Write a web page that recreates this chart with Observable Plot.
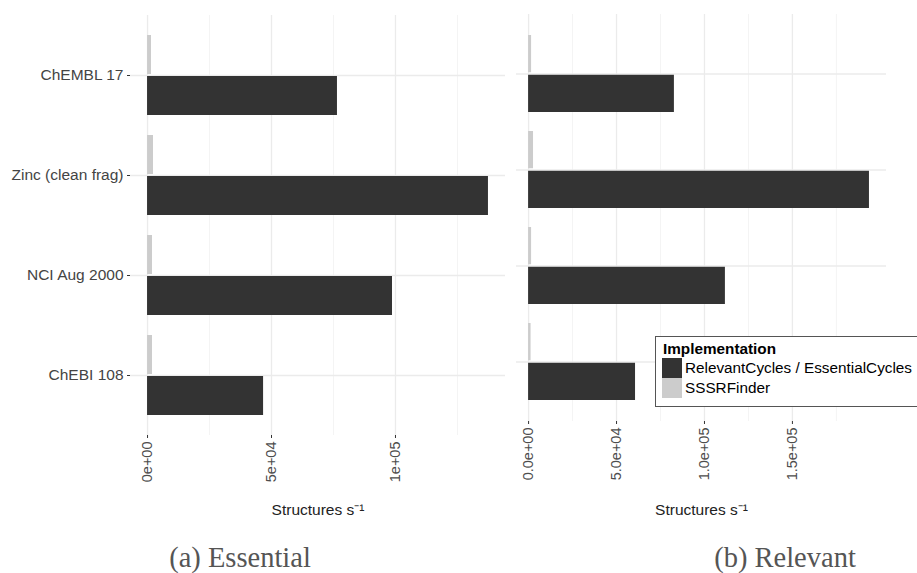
<!DOCTYPE html>
<html><head><meta charset="utf-8">
<script src="https://cdn.jsdelivr.net/npm/d3@7"></script>
<script src="https://cdn.jsdelivr.net/npm/@observablehq/plot@0.6"></script>
<style>
body{margin:0;background:#fff;}
#wrap{position:relative;width:917px;height:573px;overflow:hidden;font-family:"Liberation Sans",Arial,sans-serif;}
.panel{position:absolute;top:0;}
.panel svg{background:transparent !important;}
.cap{position:absolute;font-family:"Liberation Serif",serif;font-size:28.5px;line-height:28px;color:#555;transform:translateX(-50%);white-space:nowrap;}
#legend{position:absolute;left:655px;top:336px;width:290px;height:71px;border:1px solid #555;background:#fff;box-sizing:border-box;font-size:15.3px;color:#000;}
#legend .t{position:absolute;left:7px;top:3px;font-weight:bold;line-height:17px;}
#legend .sw{position:absolute;left:6px;width:20px;height:20px;}
#legend .lb{position:absolute;left:29px;line-height:20px;}
</style></head>
<body><div id="wrap">
<div id="left" class="panel" style="left:0px"></div>
<div id="right" class="panel" style="left:490px"></div>
<div id="legend"></div>
<div class="cap" style="left:240px;top:544px">(a) Essential</div>
<div class="cap" style="left:785px;top:544px">(b) Relevant</div>
</div>
<script>
const categories = ["ChEMBL 17", "Zinc (clean frag)", "NCI Aug 2000", "ChEBI 108"];
const implementations = ["RelevantCycles / EssentialCycles", "SSSRFinder"];
const colors = ["#333333", "#cccccc"];
const essentialRC = [76600, 137500, 98800, 46800];
const essentialSSSR = [1600, 2400, 2000, 2000];
const relevantRC = [82900, 193800, 111900, 60800];
const relevantSSSR = [1700, 2800, 1700, 1400];
const leftTicks = [0, 5e4, 1e5];
const leftTickLabels = ["0e+00", "5e+04", "1e+05"];
const leftMinor = [2.5e4, 7.5e4, 1.25e5];
const rightTicks = [0, 5e4, 1e5, 1.5e5];
const rightTickLabels = ["0.0e+00", "5.0e+04", "1.0e+05", "1.5e+05"];
const rightMinor = [2.5e4, 7.5e4, 1.25e5, 1.75e5];
const axisTitle = "Structures s\u207B\u00B9";
const legendTitle = "Implementation";

function rows(rc, sssr) {
  return categories.flatMap((c, i) => [
    {cat: c, impl: implementations[0], value: rc[i]},
    {cat: c, impl: implementations[1], value: sssr[i]}
  ]);
}

function panel(o) {
  const data = rows(o.rc, o.sssr);
  const plotH = o.height - o.mt - o.mb;
  const band = plotH / (categories.length + 0.2) * 0.8;
  const inset = band / 2 + 1;
  const lab = new Map(o.ticks.map((t, i) => [t, o.labels[i]]));
  const marks = [
    Plot.gridX(o.minor, {stroke: "#f4f4f4", strokeOpacity: 1, strokeWidth: 1}),
    Plot.gridX(o.ticks, {stroke: "#ebebeb", strokeOpacity: 1, strokeWidth: 1.3}),
    Plot.gridY(categories, {stroke: "#ebebeb", strokeOpacity: 1, strokeWidth: 1.3}),
    Plot.barX(data.filter(d => d.impl === implementations[0]), {x: "value", y: "cat", fill: "impl", insetTop: inset}),
    Plot.barX(data.filter(d => d.impl === implementations[1]), {x: "value", y: "cat", fill: "impl", insetBottom: inset}),
    Plot.axisX(o.ticks, {tickFormat: d => lab.get(d), tickRotate: -90, tickSize: 3, tickPadding: 3, label: null, fontSize: 14.5, fill: "#4d4d4d", stroke: "#333"}),
    Plot.text([axisTitle], {text: d => d, frameAnchor: "bottom", dy: o.titleDy, fill: "#222", fontSize: 15.5})
  ];
  if (o.showY) marks.push(Plot.axisY({tickSize: 3, tickPadding: 4, label: null, fontSize: 15.5, fill: "#444", stroke: "#333"}));
  return Plot.plot({
    width: o.width, height: o.height,
    marginLeft: o.ml, marginRight: o.mr, marginTop: o.mt, marginBottom: o.mb,
    style: {fontFamily: "Liberation Sans, Arial, sans-serif", fontSize: "14.5px", background: "transparent", overflow: "visible"},
    x: {domain: o.domain, axis: null},
    y: {type: "band", domain: categories, paddingInner: 0.2, paddingOuter: 0.2, axis: null},
    color: {domain: implementations, range: colors},
    marks
  });
}

document.getElementById("left").append(panel({
  rc: essentialRC, sssr: essentialSSSR, domain: [-6875, 144375],
  ticks: leftTicks, labels: leftTickLabels, minor: leftMinor,
  width: 520, height: 540, ml: 130, mr: 15, mt: 15, mb: 105, titleDy: 79, showY: true
}));
document.getElementById("right").append(panel({
  rc: relevantRC, sssr: relevantSSSR, domain: [-6875, 203490],
  ticks: rightTicks, labels: rightTickLabels, minor: rightMinor,
  width: 427, height: 540, ml: 26, mr: 31, mt: 14, mb: 119, titleDy: 93, showY: false
}));

const lg = document.getElementById("legend");
const t = document.createElement("div"); t.className = "t"; t.textContent = legendTitle; lg.append(t);
implementations.forEach((name, i) => {
  const sw = document.createElement("div"); sw.className = "sw"; sw.style.top = (21 + 20 * i) + "px"; sw.style.background = colors[i]; lg.append(sw);
  const lb = document.createElement("div"); lb.className = "lb"; lb.style.top = (21 + 20 * i) + "px"; lb.textContent = name; lg.append(lb);
});
</script>
</body></html>
